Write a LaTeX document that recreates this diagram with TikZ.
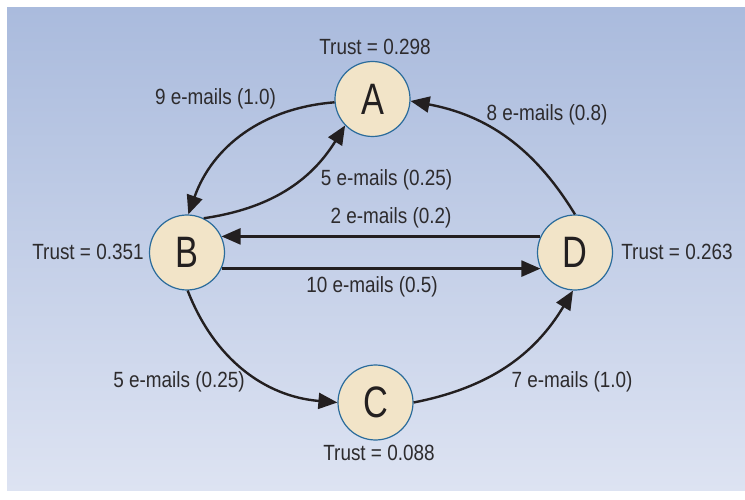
\documentclass[tikz,border=0pt]{standalone}
\usepackage{fontspec}
\setmainfont{Liberation Sans}
\newfontfamily\labfont[FakeStretch=0.86]{Liberation Sans}
\newfontfamily\letfont[FakeStretch=0.78]{Liberation Sans}
\usetikzlibrary{arrows.meta}
\definecolor{bgtop}{RGB}{170,187,221}
\definecolor{bgbot}{RGB}{221,227,242}
\definecolor{nodefill}{RGB}{242,228,200}
\definecolor{nodeedge}{RGB}{42,107,155}
\definecolor{ink}{RGB}{35,31,32}
\definecolor{labink}{RGB}{45,43,45}
\begin{document}
\begin{tikzpicture}[x=1pt,y=1pt,
  person/.style={circle, draw=nodeedge, line width=1.2pt, fill=nodefill,
    minimum size=75pt, inner sep=0pt,
    font=\letfont\fontsize{44}{44}\selectfont, text=ink},
  lab/.style={font=\labfont\fontsize{22}{22}\selectfont, text=labink, inner sep=0pt},
  link/.style={draw=ink, line width=2.4pt, -{Triangle[length=19pt,width=16pt]}}]
\fill[white] (0,0) rectangle (745,499);
\useasboundingbox (0,0) rectangle (745,499);
\shade[top color=bgtop, bottom color=bgbot] (7,9) rectangle (745,491);

\node[person] (A) at (372.5,400) {A};
\node[person] (B) at (187,246.5) {B};
\node[person] (D) at (575,246.5) {D};
\node[person] (C) at (375.5,96.5) {C};

\draw[link] (A.185) to[bend right=33] (B.88);
\draw[link] (B.64) to[bend right=25] (A.224);
\draw[link] (D.90) to[bend right=24] (A.357);
\draw[link] (D.155) -- (B.25);
\draw[link] (B.-25) -- (D.205);
\draw[link] (B.271) to[bend right=32] (C.180);
\draw[link] (C.0) to[bend right=24] (D.267);

\node[lab] (tA) at (375,452) {Trust = 0.298};
\node[lab] (tB) at (88,247) {Trust = 0.351};
\node[lab] (tD) at (677,247) {Trust = 0.263};
\node[lab] (tC) at (379,46) {Trust = 0.088};

\node[lab] (lAB) at (215.5,400) {9 e-mails (1.0)};
\node[lab] (lDA) at (547,384) {8 e-mails (0.8)};
\node[lab] (lBA) at (386.5,319) {5 e-mails (0.25)};
\node[lab] (lDB) at (391,281) {2 e-mails (0.2)};
\node[lab] (lBD) at (372,212) {10 e-mails (0.5)};
\node[lab] (lBC) at (179,117) {5 e-mails (0.25)};
\node[lab] (lCD) at (572,117) {7 e-mails (1.0)};
\end{tikzpicture}
\end{document}
